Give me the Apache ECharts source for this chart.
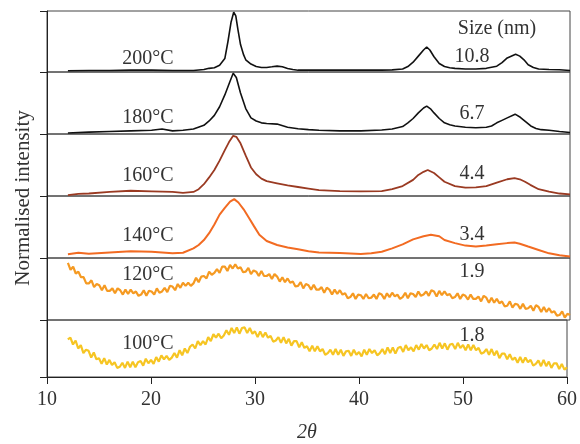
<!DOCTYPE html>
<html><head><meta charset="utf-8">
<script src="https://cdn.jsdelivr.net/npm/echarts@6/dist/echarts.min.js"></script>
<style>html,body{margin:0;padding:0;background:#fff}#c{width:580px;height:444px}</style>
</head><body><div id="c"></div>
<script>
// Temperatures (panel labels, top to bottom) and crystallite sizes
const temps = ['200°C','180°C','160°C','140°C','120°C','100°C'];
const sizes = ['10.8','6.7','4.4','3.4','1.9','1.8'];
const xTicks = [10,20,30,40,50,60];

// Normalised intensity (0 = panel bottom, 1 = panel top)
const x200 = [12,14,16,18,20,22,24,25,25.5,26,26.5,27,27.3,27.6,27.85,28.05,28.25,28.5,28.8,29,29.5,30,30.5,31,31.5,32,32.5,33,33.5,34,36,38,40,42,43,44,44.5,45,45.5,46,46.3,46.6,47,47.5,48,48.5,49,50,51,52,53,53.5,54,54.8,55.2,55.6,56,56.5,57,58,59,60];
const y200 = [0.02,0.025,0.025,0.03,0.03,0.025,0.025,0.04,0.06,0.07,0.11,0.22,0.50,0.82,0.98,0.92,0.70,0.45,0.28,0.20,0.13,0.09,0.075,0.075,0.085,0.096,0.085,0.058,0.04,0.03,0.03,0.03,0.03,0.03,0.035,0.05,0.09,0.16,0.26,0.36,0.41,0.36,0.25,0.14,0.09,0.07,0.06,0.05,0.05,0.06,0.095,0.155,0.23,0.29,0.26,0.20,0.12,0.075,0.05,0.04,0.036,0.025];

const x180 = [12,14,16,18,20,21,22,23,24,25,25.5,26,26.5,27,27.5,27.8,28.1,28.5,29,29.5,30,30.5,31,32,33,34,35,36,38,40,42,43,44,44.5,45,45.5,46,46.3,46.7,47,47.5,48,48.5,49,50,51,52,52.5,53,53.5,54,54.75,55.25,55.75,56.25,56.75,57.25,58,59,60];
const y180 = [0.015,0.03,0.04,0.05,0.06,0.08,0.05,0.06,0.08,0.14,0.21,0.30,0.44,0.63,0.85,0.98,0.91,0.66,0.41,0.26,0.21,0.18,0.17,0.16,0.11,0.085,0.07,0.06,0.05,0.05,0.065,0.08,0.12,0.18,0.25,0.34,0.42,0.45,0.40,0.34,0.25,0.18,0.15,0.13,0.11,0.10,0.11,0.13,0.18,0.22,0.26,0.32,0.27,0.20,0.13,0.09,0.07,0.06,0.04,0.025];

const x160 = [12,13,14,16,18,20,22,23,24,24.5,25,25.5,26,26.5,27,27.4,27.8,28.1,28.5,29,29.5,30,30.5,31,32,33,34,35,36,38,40,42,43,44,45,45.5,46,46.4,47,47.5,48,49,50,51,52,53,54,54.7,55.2,55.7,56.2,57,58,59,60];
const y160 = [0.015,0.035,0.04,0.065,0.085,0.075,0.065,0.05,0.065,0.11,0.19,0.30,0.42,0.57,0.74,0.87,0.97,0.955,0.85,0.65,0.46,0.35,0.28,0.24,0.205,0.17,0.145,0.12,0.095,0.08,0.075,0.08,0.11,0.16,0.26,0.34,0.39,0.42,0.37,0.30,0.23,0.16,0.135,0.14,0.16,0.215,0.27,0.29,0.27,0.23,0.18,0.11,0.07,0.04,0.025];

const x140 = [12,13,14,16,18,20,22,23,24,24.5,25,25.5,26,26.5,27,27.5,27.9,28.3,28.8,29.3,29.8,30.3,31,32,33,34,35,36,38,40,41,42,43,44,45,46,46.7,47.5,48,49,50,51,52,53,54,54.7,55.2,56,57,58,59,60];
const y140 = [0.06,0.085,0.07,0.09,0.11,0.10,0.075,0.085,0.155,0.21,0.29,0.40,0.54,0.70,0.81,0.91,0.95,0.895,0.785,0.65,0.51,0.375,0.275,0.21,0.17,0.14,0.11,0.09,0.08,0.065,0.075,0.10,0.155,0.22,0.30,0.35,0.375,0.35,0.29,0.24,0.20,0.185,0.20,0.22,0.24,0.25,0.23,0.185,0.13,0.075,0.045,0.025];

// Noisy patterns sampled every 0.25 degree from 12 to 60
const y120 = [
0.92,0.81,0.86,0.75, 0.78,0.69,0.69,0.59, 0.59,0.64,0.53,0.58, 0.56,0.48,0.56,0.47,
0.47,0.51,0.43,0.51, 0.48,0.41,0.49,0.42, 0.49,0.43,0.46,0.39, 0.41,0.48,0.39,0.47,
0.46,0.41,0.51,0.44, 0.46,0.52,0.45,0.55, 0.54,0.48,0.58,0.52, 0.60,0.55,0.60,0.55,
0.59,0.68,0.61,0.70, 0.71,0.67,0.78,0.73, 0.76,0.82,0.76,0.86, 0.86,0.79,0.89,0.83,
0.90,0.83,0.85,0.77, 0.78,0.84,0.74,0.80, 0.78,0.71,0.79,0.71, 0.71,0.74,0.66,0.74,
0.70,0.62,0.69,0.61, 0.67,0.60,0.62,0.54, 0.55,0.61,0.51,0.58, 0.56,0.49,0.57,0.49,
0.49,0.53,0.44,0.52, 0.49,0.41,0.49,0.42, 0.48,0.41,0.43,0.35, 0.37,0.43,0.34,0.41,
0.40,0.34,0.42,0.35, 0.36,0.41,0.34,0.43, 0.41,0.34,0.43,0.37, 0.44,0.38,0.41,0.34,
0.37,0.44,0.35,0.43, 0.42,0.37,0.46,0.39, 0.41,0.46,0.39,0.48, 0.46,0.38,0.47,0.40,
0.46,0.40,0.42,0.35, 0.37,0.43,0.34,0.41, 0.39,0.33,0.41,0.34, 0.34,0.38,0.30,0.39,
0.36,0.28,0.36,0.28, 0.34,0.27,0.30,0.22, 0.23,0.30,0.20,0.26, 0.25,0.18,0.26,0.18,
0.19,0.23,0.15,0.24, 0.21,0.13,0.21,0.13, 0.19,0.12,0.14,0.07, 0.08,0.14,0.04,0.10,
0.08];
const y100 = [
0.66,0.69,0.57,0.64, 0.50,0.56,0.42,0.48, 0.46,0.34,0.43,0.31, 0.33,0.23,0.33,0.22,
0.30,0.21,0.26,0.16, 0.18,0.25,0.16,0.27, 0.17,0.27,0.17,0.26, 0.28,0.20,0.32,0.24,
0.30,0.23,0.35,0.27, 0.38,0.31,0.37,0.30, 0.34,0.42,0.34,0.47, 0.38,0.50,0.42,0.53,
0.57,0.50,0.63,0.56, 0.63,0.57,0.70,0.63, 0.75,0.69,0.76,0.68, 0.73,0.82,0.74,0.86,
0.77,0.87,0.76,0.86, 0.87,0.77,0.86,0.76, 0.80,0.70,0.80,0.70, 0.78,0.69,0.72,0.62,
0.64,0.70,0.60,0.70, 0.59,0.67,0.55,0.63, 0.63,0.52,0.61,0.51, 0.54,0.45,0.55,0.45,
0.54,0.45,0.49,0.39, 0.42,0.48,0.39,0.49, 0.39,0.48,0.37,0.45, 0.46,0.37,0.48,0.39,
0.44,0.36,0.48,0.39, 0.49,0.42,0.47,0.38, 0.42,0.49,0.40,0.52, 0.42,0.52,0.41,0.51,
0.53,0.44,0.56,0.47, 0.52,0.45,0.56,0.48, 0.58,0.50,0.56,0.47, 0.50,0.57,0.49,0.60,
0.50,0.59,0.48,0.57, 0.58,0.49,0.60,0.51, 0.56,0.47,0.57,0.47, 0.56,0.47,0.51,0.41,
0.43,0.49,0.39,0.49, 0.38,0.46,0.33,0.41, 0.41,0.31,0.40,0.30, 0.34,0.25,0.35,0.25,
0.34,0.26,0.30,0.20, 0.23,0.29,0.19,0.30, 0.19,0.27,0.16,0.24, 0.24,0.14,0.23,0.13,
0.17];
const xNoisy = y120.map((_, i) => 12 + i * 0.25);

const colors = ['#111111','#111111','#9a3a22','#f26b22','#f59a22','#f6c523'];
const seriesX = [x200, x180, x160, x140, xNoisy, xNoisy];
const seriesY = [y200, y180, y160, y140, y120, y100];
const widths = [1.6, 1.6, 1.8, 2.0, 2.2, 2.2];

// layout
const bounds = [11, 72, 134, 196, 258, 320, 381];
const serif = '"Liberation Serif","DejaVu Serif",serif';
const txt = '#333';

const grids = [], xAxes = [], yAxes = [], series = [], graphics = [];
for (let i = 0; i < 6; i++) {
  grids.push({left: 47, right: 10, top: bounds[i], height: bounds[i+1] - bounds[i],
    show: true, borderColor: '#444', borderWidth: 1});
  const bottom = i === 5;
  xAxes.push({type: 'value', gridIndex: i, min: 10, max: 60, interval: 10,
    show: true,
    axisLine: {show: bottom, onZero: false, lineStyle: {color: '#222', width: 1}},
    axisTick: {show: bottom, length: 7, lineStyle: {color: '#222'}},
    axisLabel: {show: bottom, fontFamily: serif, fontSize: 20, color: txt, margin: 13},
    splitLine: {show: false},
    name: bottom ? '2θ' : '', nameLocation: 'middle', nameGap: 46,
    nameTextStyle: {fontFamily: serif, fontSize: 20, fontStyle: 'italic', color: txt}});
  yAxes.push({type: 'value', gridIndex: i, min: 0, max: 1, interval: 1,
    axisLine: {show: true, lineStyle: {color: '#222', width: 1}},
    axisTick: {show: true, length: 7, lineStyle: {color: '#222'}},
    axisLabel: {show: false}, splitLine: {show: false}});
  series.push({type: 'line', xAxisIndex: i, yAxisIndex: i, showSymbol: false, symbol: 'none',
    data: seriesX[i].map((x, k) => [x, seriesY[i][k]]),
    lineStyle: {color: colors[i], width: widths[i]}, silent: true, animation: false});
}

const tempY = [59, 118, 176, 236, 275, 344];
const sizeY = [57, 114, 174, 235, 272, 336];
for (let i = 0; i < 6; i++) {
  graphics.push({type: 'text', x: 148, y: tempY[i], style: {text: temps[i], font: '20px ' + serif,
    fill: txt, align: 'center', verticalAlign: 'middle'}});
  graphics.push({type: 'text', x: 472, y: sizeY[i], style: {text: sizes[i], font: '20px ' + serif,
    fill: txt, align: 'center', verticalAlign: 'middle'}});
}
graphics.push({type: 'text', x: 497, y: 29, style: {text: 'Size (nm)', font: '20px ' + serif,
  fill: txt, align: 'center', verticalAlign: 'middle'}});
graphics.push({type: 'text', x: 23, y: 198, rotation: Math.PI / 2, style: {text: 'Normalised intensity',
  font: '21px ' + serif, fill: txt, align: 'center', verticalAlign: 'middle'}});

const chart = echarts.init(document.getElementById('c'));
chart.setOption({animation: false, grid: grids, xAxis: xAxes, yAxis: yAxes, series: series, graphic: graphics});
</script></body></html>
